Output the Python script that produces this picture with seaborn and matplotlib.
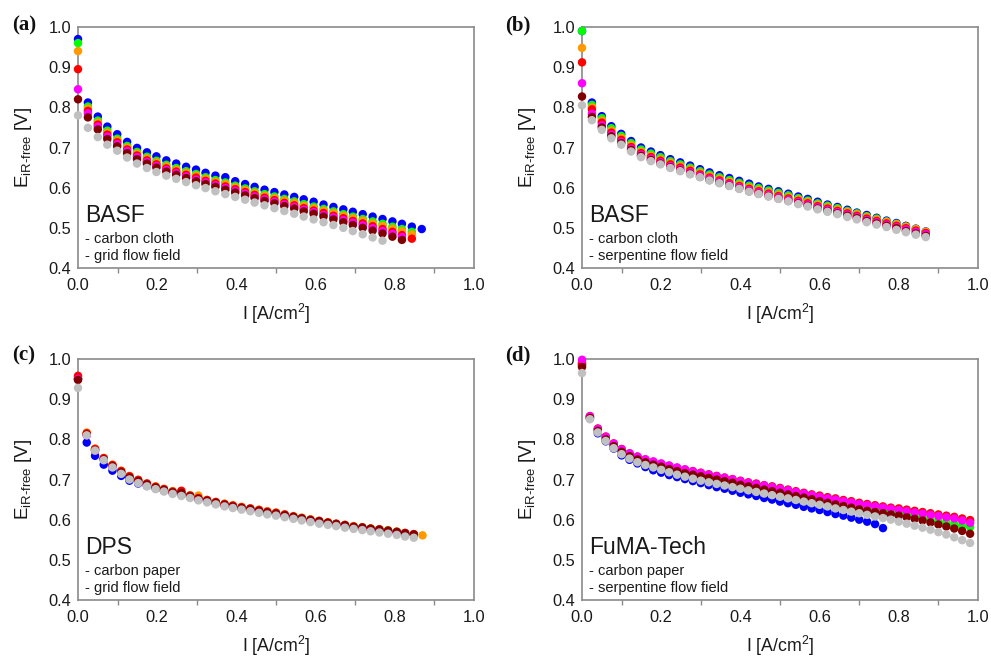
import numpy as np
import pandas as pd
import matplotlib
matplotlib.use("Agg")
import matplotlib.pyplot as plt
from matplotlib.ticker import MultipleLocator
import seaborn as sns

# ---------------- data ----------------
series_names = ["blue", "green", "orange", "red", "magenta", "maroon", "gray"]
series_colors = ["#0000FF", "#00FF00", "#FF9900", "#FF0000", "#FF00FF", "#800000", "#C0C0C0"]

# panel (a) BASF, carbon cloth, grid flow field
x_a = [0.000, 0.025, 0.050, 0.074, 0.099, 0.124, 0.149, 0.174, 0.198, 0.223, 0.248, 0.273,
       0.298, 0.322, 0.347, 0.372, 0.397, 0.422, 0.446, 0.471, 0.496, 0.521, 0.546, 0.570,
       0.595, 0.620, 0.645, 0.670, 0.694, 0.719, 0.744, 0.769, 0.794, 0.818, 0.843, 0.868]
a_blue = [0.970, 0.812, 0.777, 0.752, 0.733, 0.714, 0.699, 0.688, 0.678, 0.668, 0.660, 0.652,
          0.645, 0.637, 0.630, 0.626, 0.616, 0.609, 0.602, 0.595, 0.589, 0.583, 0.577, 0.571,
          0.565, 0.558, 0.552, 0.546, 0.540, 0.534, 0.528, 0.522, 0.516, 0.510, 0.503, 0.497]
a_green = [0.960, 0.802, 0.767, 0.742, 0.722, 0.704, 0.689, 0.677, 0.667, 0.657, 0.649, 0.641,
           0.634, 0.626, 0.619, 0.613, 0.605, 0.598, 0.591, 0.584, 0.578, 0.572, 0.566, 0.559,
           0.553, 0.547, 0.541, 0.534, 0.528, 0.522, 0.516, 0.510, 0.503, 0.497, 0.490]
a_orange = [0.940, 0.797, 0.762, 0.737, 0.718, 0.700, 0.685, 0.673, 0.663, 0.653, 0.645, 0.637,
            0.630, 0.622, 0.615, 0.609, 0.601, 0.594, 0.587, 0.580, 0.574, 0.568, 0.562, 0.555,
            0.549, 0.543, 0.537, 0.530, 0.524, 0.518, 0.511, 0.505, 0.498, 0.492, 0.484]
a_red = [0.895, 0.791, 0.757, 0.732, 0.713, 0.695, 0.680, 0.668, 0.658, 0.648, 0.640, 0.632,
         0.625, 0.617, 0.610, 0.603, 0.596, 0.589, 0.582, 0.575, 0.569, 0.562, 0.556, 0.549,
         0.543, 0.537, 0.530, 0.524, 0.517, 0.511, 0.504, 0.497, 0.490, 0.482, 0.473]
a_magenta = [0.845, 0.785, 0.752, 0.727, 0.708, 0.691, 0.676, 0.664, 0.654, 0.644, 0.636, 0.628,
             0.620, 0.613, 0.606, 0.599, 0.592, 0.585, 0.578, 0.571, 0.565, 0.558, 0.552, 0.545,
             0.539, 0.532, 0.526, 0.519, 0.513, 0.506, 0.499, 0.492, 0.485, 0.477]
a_maroon = [0.820, 0.775, 0.745, 0.721, 0.703, 0.686, 0.671, 0.660, 0.650, 0.640, 0.632, 0.624,
            0.616, 0.609, 0.602, 0.595, 0.588, 0.581, 0.574, 0.567, 0.561, 0.554, 0.548, 0.541,
            0.535, 0.528, 0.521, 0.514, 0.507, 0.500, 0.493, 0.486, 0.478, 0.470]
a_gray = [0.780, 0.749, 0.726, 0.707, 0.692, 0.675, 0.660, 0.649, 0.639, 0.630, 0.622, 0.614,
          0.606, 0.599, 0.591, 0.584, 0.577, 0.570, 0.563, 0.556, 0.549, 0.542, 0.535, 0.528,
          0.521, 0.514, 0.507, 0.500, 0.492, 0.484, 0.476, 0.468]

# panel (b) BASF, carbon cloth, serpentine flow field
x_b = list(x_a)
b_blue = [0.990, 0.812, 0.778, 0.753, 0.734, 0.716, 0.700, 0.690, 0.681, 0.671, 0.663, 0.655,
          0.646, 0.638, 0.631, 0.624, 0.617, 0.610, 0.603, 0.597, 0.591, 0.585, 0.578, 0.572,
          0.565, 0.558, 0.552, 0.545, 0.538, 0.532, 0.525, 0.518, 0.512, 0.505, 0.498, 0.491]
b_green = [0.990, 0.806, 0.773, 0.748, 0.729, 0.711, 0.695, 0.685, 0.676, 0.666, 0.658, 0.650,
           0.641, 0.633, 0.626, 0.619, 0.612, 0.605, 0.599, 0.593, 0.587, 0.581, 0.574, 0.568,
           0.561, 0.555, 0.549, 0.542, 0.536, 0.529, 0.523, 0.516, 0.510, 0.503, 0.497, 0.490]
b_orange = [0.948, 0.800, 0.767, 0.742, 0.724, 0.706, 0.690, 0.680, 0.671, 0.662, 0.654, 0.646,
            0.637, 0.629, 0.622, 0.615, 0.608, 0.601, 0.595, 0.589, 0.583, 0.577, 0.571, 0.565,
            0.558, 0.552, 0.546, 0.540, 0.534, 0.527, 0.521, 0.515, 0.509, 0.503, 0.497, 0.490]
b_red = [0.912, 0.795, 0.762, 0.737, 0.719, 0.701, 0.686, 0.676, 0.667, 0.658, 0.650, 0.642,
         0.633, 0.625, 0.618, 0.611, 0.604, 0.597, 0.591, 0.585, 0.579, 0.573, 0.567, 0.561,
         0.554, 0.548, 0.542, 0.536, 0.530, 0.523, 0.517, 0.511, 0.505, 0.499, 0.493, 0.487]
b_magenta = [0.860, 0.784, 0.755, 0.732, 0.714, 0.697, 0.682, 0.672, 0.663, 0.654, 0.646, 0.638,
             0.630, 0.622, 0.615, 0.608, 0.601, 0.594, 0.588, 0.582, 0.576, 0.570, 0.564, 0.558,
             0.551, 0.545, 0.539, 0.533, 0.527, 0.520, 0.514, 0.508, 0.502, 0.496, 0.490, 0.484]
b_maroon = [0.827, 0.776, 0.750, 0.728, 0.711, 0.694, 0.679, 0.669, 0.660, 0.651, 0.643, 0.635,
            0.627, 0.619, 0.612, 0.605, 0.598, 0.591, 0.585, 0.579, 0.573, 0.567, 0.561, 0.555,
            0.548, 0.542, 0.536, 0.530, 0.524, 0.517, 0.511, 0.505, 0.499, 0.492, 0.486, 0.480]
b_gray = [0.805, 0.768, 0.744, 0.723, 0.707, 0.690, 0.676, 0.666, 0.658, 0.649, 0.641, 0.633,
          0.626, 0.618, 0.611, 0.604, 0.597, 0.590, 0.584, 0.578, 0.572, 0.566, 0.559, 0.553,
          0.546, 0.540, 0.534, 0.527, 0.521, 0.514, 0.508, 0.502, 0.495, 0.489, 0.483, 0.477]

# panel (c) DPS, carbon paper, grid flow field
x_c = [0.000, 0.022, 0.043, 0.065, 0.087, 0.109, 0.130, 0.152, 0.174, 0.196, 0.217, 0.239,
       0.261, 0.283, 0.304, 0.326, 0.348, 0.370, 0.391, 0.413, 0.435, 0.457, 0.478, 0.500,
       0.522, 0.544, 0.565, 0.587, 0.609, 0.631, 0.652, 0.674, 0.696, 0.718, 0.739, 0.761,
       0.783, 0.805, 0.826, 0.848, 0.870]
c_blue = [0.950, 0.792, 0.759, 0.737, 0.722, 0.709, 0.697, 0.690, 0.684, 0.678, 0.672, 0.667,
          0.662, 0.656, 0.651, 0.646, 0.641, 0.636, 0.632, 0.628, 0.625, 0.621, 0.617, 0.614,
          0.610, 0.606, 0.602, 0.598, 0.595, 0.591, 0.588, 0.585, 0.581, 0.579, 0.576, 0.574,
          0.571, 0.568, 0.565, 0.562]
c_green = [0.952, 0.812, 0.774, 0.751, 0.734, 0.719, 0.706, 0.697, 0.688, 0.680, 0.674, 0.668,
           0.666, 0.658, 0.652, 0.647, 0.642, 0.637, 0.633, 0.629, 0.626, 0.622, 0.618, 0.615,
           0.611, 0.607, 0.603, 0.599, 0.596, 0.592, 0.589, 0.586, 0.583, 0.581, 0.578, 0.576,
           0.574, 0.570, 0.566, 0.563]
c_orange = [0.955, 0.817, 0.777, 0.754, 0.737, 0.722, 0.709, 0.699, 0.690, 0.683, 0.677, 0.671,
            0.668, 0.661, 0.660, 0.649, 0.644, 0.640, 0.636, 0.632, 0.628, 0.625, 0.621, 0.618,
            0.613, 0.609, 0.605, 0.601, 0.597, 0.594, 0.590, 0.587, 0.584, 0.581, 0.578, 0.576,
            0.573, 0.570, 0.567, 0.564, 0.561]
c_red = [0.958, 0.815, 0.776, 0.753, 0.736, 0.721, 0.708, 0.699, 0.690, 0.682, 0.676, 0.670,
         0.672, 0.660, 0.654, 0.649, 0.644, 0.639, 0.635, 0.631, 0.628, 0.624, 0.620, 0.617,
         0.613, 0.608, 0.604, 0.600, 0.597, 0.593, 0.590, 0.587, 0.583, 0.581, 0.578, 0.576,
         0.573, 0.570, 0.567, 0.564]
c_magenta = [0.950, 0.810, 0.772, 0.749, 0.732, 0.717, 0.704, 0.695, 0.687, 0.679, 0.673, 0.667,
             0.665, 0.657, 0.651, 0.646, 0.641, 0.636, 0.632, 0.628, 0.625, 0.621, 0.617, 0.614,
             0.610, 0.606, 0.602, 0.598, 0.595, 0.591, 0.588, 0.585, 0.581, 0.579, 0.576, 0.574,
             0.571, 0.568, 0.565, 0.562]
c_maroon = [0.948, 0.812, 0.773, 0.750, 0.733, 0.718, 0.705, 0.696, 0.688, 0.680, 0.674, 0.668,
            0.667, 0.658, 0.652, 0.647, 0.642, 0.637, 0.633, 0.629, 0.626, 0.622, 0.618, 0.615,
            0.611, 0.607, 0.603, 0.599, 0.596, 0.592, 0.589, 0.586, 0.582, 0.580, 0.577, 0.575,
            0.572, 0.569, 0.566, 0.563]
c_gray = [0.928, 0.810, 0.772, 0.748, 0.730, 0.714, 0.700, 0.691, 0.683, 0.676, 0.670, 0.664,
          0.659, 0.654, 0.648, 0.643, 0.638, 0.633, 0.629, 0.625, 0.621, 0.617, 0.613, 0.610,
          0.606, 0.602, 0.598, 0.594, 0.590, 0.587, 0.584, 0.580, 0.577, 0.574, 0.571, 0.568,
          0.565, 0.562, 0.558, 0.555]

# panel (d) FuMA-Tech, carbon paper, serpentine flow field
x_d = [0.00, 0.02, 0.04, 0.06, 0.08, 0.10, 0.12, 0.14, 0.16, 0.18, 0.20, 0.22, 0.24, 0.26,
       0.28, 0.30, 0.32, 0.34, 0.36, 0.38, 0.40, 0.42, 0.44, 0.46, 0.48, 0.50, 0.52, 0.54,
       0.56, 0.58, 0.60, 0.62, 0.64, 0.66, 0.68, 0.70, 0.72, 0.74, 0.76, 0.78, 0.80, 0.82,
       0.84, 0.86, 0.88, 0.90, 0.92, 0.94, 0.96, 0.98]
d_blue = [0.985, 0.852, 0.815, 0.795, 0.777, 0.760, 0.749, 0.740, 0.731, 0.723, 0.717, 0.711,
          0.706, 0.701, 0.696, 0.691, 0.686, 0.681, 0.677, 0.672, 0.667, 0.663, 0.659, 0.654,
          0.650, 0.645, 0.641, 0.637, 0.632, 0.628, 0.624, 0.619, 0.614, 0.610, 0.605, 0.600,
          0.595, 0.589, 0.579]
d_green = [0.985, 0.855, 0.824, 0.803, 0.786, 0.772, 0.761, 0.752, 0.745, 0.739, 0.734, 0.729,
           0.724, 0.720, 0.716, 0.712, 0.708, 0.704, 0.700, 0.696, 0.692, 0.688, 0.684, 0.680,
           0.676, 0.672, 0.668, 0.664, 0.660, 0.656, 0.652, 0.648, 0.644, 0.640, 0.636, 0.632,
           0.629, 0.626, 0.623, 0.620, 0.617, 0.613, 0.609, 0.605, 0.601, 0.597, 0.593, 0.589,
           0.585, 0.582]
d_orange = [0.988, 0.856, 0.825, 0.805, 0.788, 0.774, 0.763, 0.755, 0.748, 0.742, 0.737, 0.732,
            0.727, 0.723, 0.719, 0.715, 0.711, 0.707, 0.703, 0.699, 0.695, 0.691, 0.688, 0.684,
            0.681, 0.677, 0.673, 0.669, 0.665, 0.661, 0.658, 0.654, 0.651, 0.647, 0.644, 0.640,
            0.637, 0.634, 0.631, 0.628, 0.625, 0.622, 0.619, 0.616, 0.613, 0.610, 0.607, 0.604,
            0.600, 0.596]
d_red = [0.990, 0.858, 0.827, 0.807, 0.790, 0.776, 0.765, 0.757, 0.750, 0.744, 0.739, 0.734,
         0.729, 0.725, 0.721, 0.717, 0.713, 0.709, 0.705, 0.701, 0.697, 0.693, 0.690, 0.686,
         0.683, 0.679, 0.675, 0.671, 0.667, 0.663, 0.660, 0.656, 0.653, 0.649, 0.646, 0.642,
         0.639, 0.636, 0.633, 0.630, 0.628, 0.625, 0.622, 0.619, 0.616, 0.613, 0.610, 0.607,
         0.603, 0.599]
d_magenta = [0.998, 0.857, 0.826, 0.806, 0.789, 0.775, 0.765, 0.757, 0.750, 0.745, 0.740, 0.735,
             0.730, 0.725, 0.720, 0.716, 0.712, 0.708, 0.704, 0.700, 0.696, 0.692, 0.688, 0.685,
             0.681, 0.677, 0.673, 0.669, 0.665, 0.661, 0.657, 0.653, 0.650, 0.646, 0.643, 0.639,
             0.636, 0.633, 0.630, 0.627, 0.624, 0.621, 0.618, 0.615, 0.612, 0.609, 0.606, 0.603,
             0.598, 0.592]
d_maroon = [0.980, 0.853, 0.821, 0.800, 0.783, 0.769, 0.758, 0.750, 0.743, 0.737, 0.732, 0.726,
            0.721, 0.716, 0.712, 0.708, 0.704, 0.700, 0.696, 0.692, 0.687, 0.683, 0.679, 0.675,
            0.671, 0.667, 0.663, 0.659, 0.655, 0.651, 0.646, 0.642, 0.638, 0.634, 0.630, 0.626,
            0.622, 0.619, 0.616, 0.613, 0.610, 0.606, 0.602, 0.598, 0.593, 0.588, 0.583, 0.578,
            0.572, 0.565]
d_gray = [0.965, 0.850, 0.817, 0.796, 0.778, 0.763, 0.752, 0.743, 0.736, 0.730, 0.724, 0.718,
          0.712, 0.707, 0.702, 0.697, 0.693, 0.689, 0.685, 0.681, 0.677, 0.673, 0.669, 0.665,
          0.661, 0.657, 0.653, 0.649, 0.645, 0.641, 0.637, 0.633, 0.628, 0.624, 0.620, 0.616,
          0.612, 0.608, 0.604, 0.600, 0.595, 0.590, 0.585, 0.580, 0.575, 0.569, 0.563, 0.556,
          0.549, 0.542]

panel_letters = ["(a)", "(b)", "(c)", "(d)"]
panel_titles = ["BASF", "BASF", "DPS", "FuMA-Tech"]
panel_line1 = ["- carbon cloth", "- carbon cloth", "- carbon paper", "- carbon paper"]
panel_line2 = ["- grid flow field", "- serpentine flow field", "- grid flow field",
               "- serpentine flow field"]
x_ticks = [0.0, 0.2, 0.4, 0.6, 0.8, 1.0]
y_ticks = [0.4, 0.5, 0.6, 0.7, 0.8, 0.9, 1.0]

panels = [
    (x_a, [a_blue, a_green, a_orange, a_red, a_magenta, a_maroon, a_gray]),
    (x_b, [b_blue, b_green, b_orange, b_red, b_magenta, b_maroon, b_gray]),
    (x_c, [c_blue, c_green, c_orange, c_red, c_magenta, c_maroon, c_gray]),
    (x_d, [d_blue, d_green, d_orange, d_red, d_magenta, d_maroon, d_gray]),
]

# ---------------- style ----------------
sns.set_style("white")
plt.rcParams["font.family"] = ["Liberation Sans", "DejaVu Sans"]
plt.rcParams["mathtext.fontset"] = "custom"
plt.rcParams["mathtext.rm"] = "Liberation Sans"
plt.rcParams["mathtext.it"] = "Liberation Sans:italic"
plt.rcParams["mathtext.bf"] = "Liberation Sans:bold"

spine_col = "#8a8a8a"
text_col = "#1a1a1a"

fig = plt.figure(figsize=(9.91, 6.57), dpi=100)
W, H = 991.0, 657.0
axes_px = [(78, 27), (582, 27), (78, 359), (582, 359)]  # left, top in pixels
aw, ah = 396, 241
letter_px = [(12, 25), (505, 25), (12, 355), (505, 355)]

palette = dict(zip(series_names, series_colors))

for i, (xs, ys_list) in enumerate(panels):
    lx, ty = axes_px[i]
    ax = fig.add_axes([lx / W, 1 - (ty + ah) / H, aw / W, ah / H])
    rows = []
    for name, ys in zip(series_names, ys_list):
        for xv, yv in zip(xs[:len(ys)], ys):
            rows.append((name, xv, yv))
    df = pd.DataFrame(rows, columns=["series", "I", "E"])
    sns.scatterplot(data=df, x="I", y="E", hue="series", palette=palette,
                    hue_order=series_names, s=37, linewidth=0, alpha=1,
                    legend=False, ax=ax, clip_on=False, zorder=3)
    ax.set_xlim(0, 1.0)
    ax.set_ylim(0.4, 1.0)
    ax.set_xticks(x_ticks)
    ax.set_yticks(y_ticks)
    ax.xaxis.set_minor_locator(MultipleLocator(0.1))
    ax.set_xticklabels([f"{v:.1f}" for v in x_ticks])
    ax.set_yticklabels([f"{v:.1f}" for v in y_ticks])
    for sp in ax.spines.values():
        sp.set_color(spine_col)
        sp.set_linewidth(1.2)
    ax.tick_params(axis="both", which="both", direction="out", length=3.5, width=1.0,
                   color=spine_col, labelsize=11.8, labelcolor=text_col, pad=1.5)
    ax.tick_params(axis="x", which="minor", bottom=True)
    ax.tick_params(axis="x", which="major", pad=4)
    ax.set_xlabel("I [A/cm$^2$]", fontsize=12.8, color=text_col)
    ax.set_ylabel(r"E$_{\mathregular{iR\text{-}free}}$ [V]", fontsize=13.5, color=text_col)
    ax.xaxis.set_label_coords(0.5, -0.14)
    ax.yaxis.set_label_coords(-0.112, 0.5)
    ax.text(0.018, 0.19, panel_titles[i], transform=ax.transAxes, fontsize=16.5,
            color=text_col, ha="left", va="baseline")
    ax.text(0.018, 0.105, panel_line1[i], transform=ax.transAxes, fontsize=10.5,
            color=text_col, ha="left", va="baseline")
    ax.text(0.018, 0.035, panel_line2[i], transform=ax.transAxes, fontsize=10.5,
            color=text_col, ha="left", va="baseline")
    px, py = letter_px[i]
    fig.text(px / W, 1 - py / H, panel_letters[i], ha="left", va="center",
             fontsize=15, fontweight="bold", family="Liberation Serif", color="#111111")

fig.savefig("out.png", dpi=100)
